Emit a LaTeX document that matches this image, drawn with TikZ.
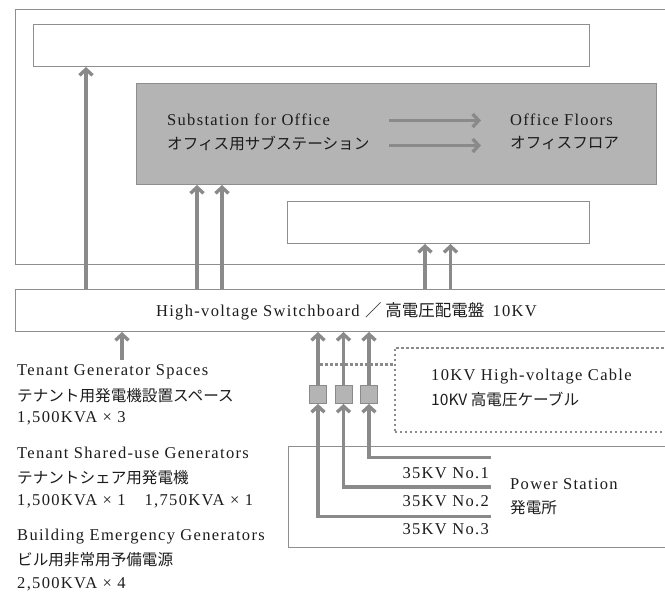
\documentclass[tikz,border=0pt]{standalone}
\usepackage{fontspec}
\setmainfont{Liberation Serif}[LetterSpace=8]
\newfontfamily\jp{Noto Sans CJK JP}
\usetikzlibrary{arrows.meta}
\definecolor{ln}{HTML}{8A8A8A}
\definecolor{bx}{HTML}{8E8E8E}
\definecolor{fillg}{HTML}{B4B4B4}
\definecolor{txt}{HTML}{1C1C1C}
\tikzset{
  box/.style={draw=bx, line width=1pt, fill=white, inner sep=0pt, anchor=north west},
  arr/.style={draw=ln, line width=3.4pt, -{Straight Barb[length=6pt,width=13pt]}},
  en/.style={text=txt, font=\fontsize{16.5}{18}\selectfont, inner sep=0pt},
  ja/.style={text=txt, font=\jp\fontsize{15.6}{17}\selectfont, inner sep=0pt},
  sq/.style={draw=ln, line width=0.8pt, fill=fillg, minimum width=17pt, minimum height=18pt, inner sep=0pt},
  dots/.style={draw=ln, line width=2.6pt, dash pattern=on 2.6pt off 2.4pt},
}
\begin{document}
\begin{tikzpicture}[x=1pt,y=-1pt]
\useasboundingbox (0,0) rectangle (665,595);
\clip (0,0) rectangle (665,595);
% building and inner boxes
\node[box, minimum width=680pt, minimum height=255pt] (bld) at (15,9) {};
\node[box, minimum width=556pt, minimum height=42pt] (top) at (33,24) {};
\node[box, fill=fillg, minimum width=520pt, minimum height=101pt] (sub) at (136,83) {};
\node[box, minimum width=302pt, minimum height=42pt] (low) at (287,201) {};
% switchboard
\node[box, minimum width=662pt, minimum height=42pt] (sw) at (15,289) {};
\node[en, anchor=center] (swt) at (346.5,311) {High-voltage Switchboard {\jp ／ 高電圧配電盤}\, 10KV};
% power station and cable boxes
\node[box, minimum width=420pt, minimum height=101pt] (ps) at (287.5,446) {};
\node[box, dots, fill=none, minimum width=320pt, minimum height=84pt] (cab) at (393.5,346.5) {};
% texts in substation
\node[en, anchor=west] (subt) at (167,120) {Substation for Office};
\node[ja, anchor=west] (subj) at (167,143) {オフィス用サブステーション};
\node[en, anchor=west] (offt) at (510,120) {Office Floors};
\node[ja, anchor=west] (offj) at (510,143) {オフィスフロア};
\coordinate (h1s) at (389,120.5); \coordinate (h1e) at (481,120.5);
\coordinate (h2s) at (389,145.5); \coordinate (h2e) at (481,145.5);
\draw[arr] (h1s) -- (h1e);
\draw[arr] (h2s) -- (h2e);
% columns
\coordinate (c1) at (86,0);
\coordinate (c2) at (197,0);
\coordinate (c3) at (222,0);
\coordinate (c4) at (425,0);
\coordinate (c5) at (450.5,0);
\draw[arr] (c1 |- sw.north) -- (c1 |- top.south);
\draw[arr] (c2 |- sw.north) -- (c2 |- sub.south);
\draw[arr] (c3 |- sw.north) -- (c3 |- sub.south);
\draw[arr] (c4 |- sw.north) -- (c4 |- low.south);
\draw[arr] (c5 |- sw.north) -- (c5 |- low.south);
% tenant generator
\coordinate (tg) at (122,360);
\draw[arr] (tg) -- (tg |- sw.south);
% feed squares
\node[sq] (s1) at (318,394.5) {};
\node[sq] (s2) at (343.5,394.5) {};
\node[sq] (s3) at (369,394.5) {};
\coordinate (dl) at (320,364.5);
\draw[dots] (dl) -- (dl -| cab.west);
\draw[arr] (s1.north) -- (s1.north |- sw.south);
\draw[arr] (s2.north) -- (s2.north |- sw.south);
\draw[arr] (s3.north) -- (s3.north |- sw.south);
\coordinate (f1) at (491,516.5);
\coordinate (f2) at (491,487);
\coordinate (f3) at (491,457.5);
\draw[arr] (f1) -| (s1.south);
\draw[arr] (f2) -| (s2.south);
\draw[arr] (f3) -| (s3.south);
% station texts
\node[en, anchor=east] (k1) at (489,473) {35KV No.1};
\node[en, anchor=east] (k2) at (489,501) {35KV No.2};
\node[en, anchor=east] (k3) at (489,529) {35KV No.3};
\node[en, anchor=west] (pst) at (510,484) {Power Station};
\node[ja, anchor=west] (psj) at (510,508) {発電所};
% cable texts
\node[en, anchor=west] (cbt) at (431,377) {10KV High-voltage Cable};
\node[ja, anchor=west] (cbj) at (431,399) {10KV 高電圧ケーブル};
% left texts
\node[en, anchor=west] (l1) at (17,372) {Tenant Generator Spaces};
\node[ja, anchor=west] (l2) at (17,396) {テナント用発電機設置スペース};
\node[en, anchor=west] (l3) at (17,418) {1,500KVA × 3};
\node[en, anchor=west] (l4) at (17,453) {Tenant Shared-use Generators};
\node[ja, anchor=west] (l5) at (17,478) {テナントシェア用発電機};
\node[en, anchor=west] (l6) at (17,501) {1,500KVA × 1\hspace{19pt}1,750KVA × 1};
\node[en, anchor=west] (l7) at (17,537) {Building Emergency Generators};
\node[ja, anchor=west] (l8) at (17,560) {ビル用非常用予備電源};
\node[en, anchor=west] (l9) at (17,584) {2,500KVA × 4};
\end{tikzpicture}
\end{document}
